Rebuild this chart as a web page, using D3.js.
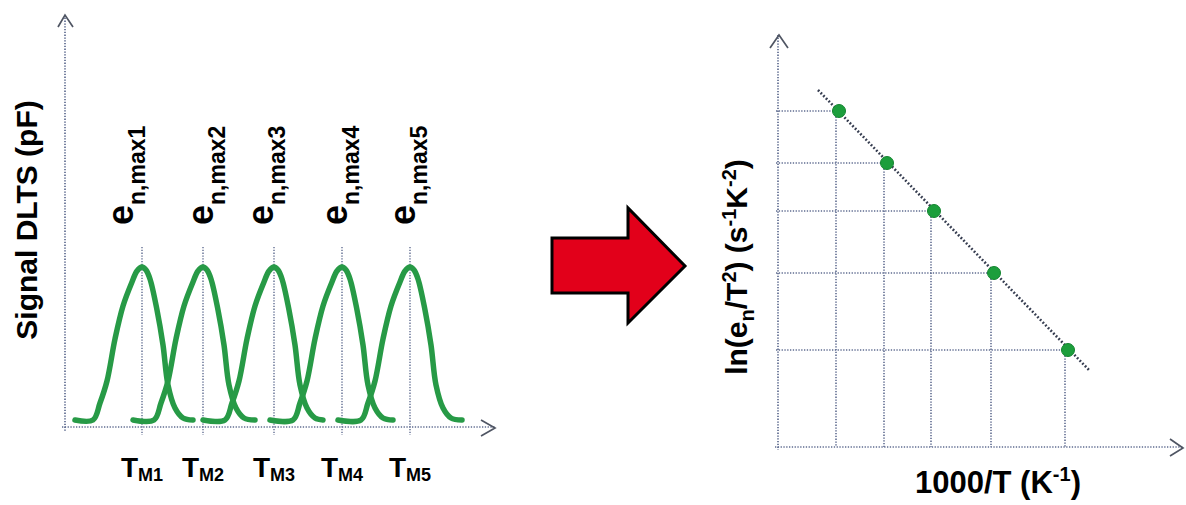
<!DOCTYPE html>
<html>
<head>
<meta charset="utf-8">
<script src="https://cdn.jsdelivr.net/npm/d3@7"></script>
<style>
  html, body { margin: 0; padding: 0; background: #ffffff; }
  svg { display: block; font-family: "Liberation Sans", Arial, sans-serif; font-weight: bold; }
</style>
</head>
<body>
<svg id="chart" width="1186" height="505"></svg>
<script>
// ---------------- DATA ----------------
// Left panel: DLTS spectra (temperature in arbitrary units, signal in arbitrary units)
const peakLabels = ["1", "2", "3", "4", "5"];
const peakT = [77, 138, 209, 277, 345];
const peakSignal = 160;

const curve1T = [10, 28, 35, 42, 50, 58, 67, 72, 77, 81, 85, 92, 98, 103, 110, 118, 128];
const curve2T = [68, 89, 96, 103, 111, 119, 128, 133, 138, 142, 146, 153, 159, 164, 171, 179, 190];
const curve3T = [138, 160, 167, 174, 182, 190, 199, 204, 209, 213, 217, 224, 230, 235, 242, 250, 258];
const curve4T = [205, 228, 235, 242, 250, 258, 267, 272, 277, 281, 285, 292, 298, 303, 310, 318, 328];
const curve5T = [273, 296, 303, 310, 318, 326, 335, 340, 345, 349, 353, 360, 366, 371, 378, 386, 397];
const curveSignal = [7, 7, 24, 46, 88, 121, 145, 156, 160, 157, 148, 117, 82, 42, 19, 9, 7];

// Right panel: Arrhenius plot (1000/T and ln(e/T^2) in arbitrary units)
const invT = [61, 109, 156, 216, 290];
const lnET2 = [336, 284, 236, 174, 97];
const fitInvT = [40, 312];
const fitLn = [357, 76];

// ---------------- LAYOUT ----------------
const svg = d3.select("#chart");
const gridColor = "#5f6c90";
const greenLine = "#279a46";
const greenDot = "#1c9e3c";

const xL = d3.scaleLinear().domain([0, 430]).range([65, 495]);
const yL = d3.scaleLinear().domain([0, 412]).range([427, 15]);

const xR = d3.scaleLinear().domain([0, 405]).range([778, 1183]);
const yR = d3.scaleLinear().domain([0, 412]).range([447, 35]);

function dotted(sel, w) {
  return sel.attr("stroke", gridColor).attr("stroke-width", w || 1.5)
            .attr("stroke-dasharray", "1.3,1.5").attr("fill", "none");
}
function chevron(points) {
  svg.append("polyline").attr("points", points.map(p => p.join(",")).join(" "))
    .attr("fill", "none").attr("stroke", "#4f5563").attr("stroke-width", 1.7)
    .attr("stroke-linejoin", "miter");
}

// ---- Left axes
dotted(svg.append("line").attr("x1", xL(0)).attr("x2", xL(0)).attr("y1", yL(412)).attr("y2", yL(-5)), 1.7);
dotted(svg.append("line").attr("x1", xL(-3)).attr("x2", xL(430)).attr("y1", yL(0)).attr("y2", yL(0)), 1.7);
chevron([[xL(0) - 7, yL(412) + 12], [xL(0), yL(412)], [xL(0) + 8, yL(412) + 12]]);
chevron([[xL(430) - 14, yL(0) - 7], [xL(430), yL(0) + 1], [xL(430) - 14, yL(0) + 9]]);

// Peak dotted verticals
svg.selectAll(".peakline").data(peakT).enter().append("line")
  .attr("x1", d => xL(d)).attr("x2", d => xL(d))
  .attr("y1", yL(peakSignal + 20)).attr("y2", yL(-8))
  .call(s => dotted(s, 1.4));

// Curves
const curves = [curve1T, curve2T, curve3T, curve4T, curve5T];
const lineL = d3.line().x(d => xL(d[0])).y(d => yL(d[1])).curve(d3.curveCatmullRom.alpha(0.5));
svg.selectAll(".dlts").data(curves).enter().append("path")
  .attr("d", c => lineL(c.map((t, i) => [t, curveSignal[i]])))
  .attr("fill", "none").attr("stroke", greenLine).attr("stroke-width", 5.5)
  .attr("stroke-linecap", "round").attr("stroke-linejoin", "round");

// e_n,max labels
const labelDx = [-9, 10, -1, 5, 5];
peakT.forEach((t, i) => {
  const g = svg.append("g").attr("transform", `translate(${xL(t) + labelDx[i]},225) rotate(-90)`);
  const txt = g.append("text").attr("x", 0).attr("y", 0).attr("fill", "#000");
  txt.append("tspan").attr("font-size", 36).text("e");
  txt.append("tspan").attr("font-size", 23).attr("dy", 12).text("n,max" + peakLabels[i]);
});

// T_M labels
peakT.forEach((t, i) => {
  const txt = svg.append("text").attr("x", xL(t)).attr("y", 477)
    .attr("text-anchor", "middle").attr("fill", "#000");
  txt.append("tspan").attr("font-size", 28).text("T");
  txt.append("tspan").attr("font-size", 18).attr("dy", 4).text("M" + peakLabels[i]);
});

// Left y label
svg.append("text").attr("transform", "translate(37,220) rotate(-90)")
  .attr("text-anchor", "middle").attr("font-size", 30).attr("fill", "#000")
  .text("Signal DLTS (pF)");

// ---- Red arrow
svg.append("polygon")
  .attr("points", "552,238 628,238 628,208 685,266 628,323 628,293 552,293")
  .attr("fill", "#e2001a").attr("stroke", "#000").attr("stroke-width", 3)
  .attr("stroke-linejoin", "miter");

// ---- Right axes
dotted(svg.append("line").attr("x1", xR(0)).attr("x2", xR(0)).attr("y1", yR(412)).attr("y2", yR(-3)), 1.7);
dotted(svg.append("line").attr("x1", xR(-3)).attr("x2", xR(405)).attr("y1", yR(0)).attr("y2", yR(0)), 1.7);
chevron([[xR(0) - 8, yR(412) + 13], [xR(0) + 1, yR(412)], [xR(0) + 10, yR(412) + 13]]);
chevron([[xR(405) - 13, yR(0) - 8], [xR(405), yR(0) + 1], [xR(405) - 13, yR(0) + 9]]);

// Grid projections
invT.forEach((x, i) => {
  dotted(svg.append("line").attr("x1", xR(-2)).attr("x2", xR(x)).attr("y1", yR(lnET2[i])).attr("y2", yR(lnET2[i])), 1.6);
  dotted(svg.append("line").attr("x1", xR(x) - 3).attr("x2", xR(x) - 3).attr("y1", yR(lnET2[i])).attr("y2", yR(0)), 1.6);
});

// Fit line
svg.append("line")
  .attr("x1", xR(fitInvT[0])).attr("y1", yR(fitLn[0]))
  .attr("x2", xR(fitInvT[1])).attr("y2", yR(fitLn[1]))
  .attr("stroke", "#363d50").attr("stroke-width", 2.6).attr("stroke-dasharray", "1.8,2");

// Points
svg.selectAll(".pt").data(invT).enter().append("circle")
  .attr("cx", d => xR(d)).attr("cy", (d, i) => yR(lnET2[i])).attr("r", 6.5)
  .attr("fill", greenDot).attr("stroke", "#13852f").attr("stroke-width", 1);

// Right y label
const yl = svg.append("text").attr("transform", "translate(747,267) rotate(-90)")
  .attr("text-anchor", "middle").attr("font-size", 30).attr("fill", "#000");
yl.append("tspan").text("ln(e");
yl.append("tspan").attr("font-size", 20).attr("dy", 7).text("n");
yl.append("tspan").attr("dy", -7).text("/T");
yl.append("tspan").attr("font-size", 20).attr("dy", -11).text("2");
yl.append("tspan").attr("dy", 11).text(") (s");
yl.append("tspan").attr("font-size", 20).attr("dy", -11).text("-1");
yl.append("tspan").attr("dy", 11).text("K");
yl.append("tspan").attr("font-size", 20).attr("dy", -11).text("-2");
yl.append("tspan").attr("dy", 11).text(")");

// Right x label
const xl = svg.append("text").attr("x", 915).attr("y", 493).attr("font-size", 31).attr("fill", "#000");
xl.append("tspan").text("1000/T (K");
xl.append("tspan").attr("font-size", 20).attr("dy", -12).text("-1");
xl.append("tspan").attr("dy", 12).text(")");
</script>
</body>
</html>
